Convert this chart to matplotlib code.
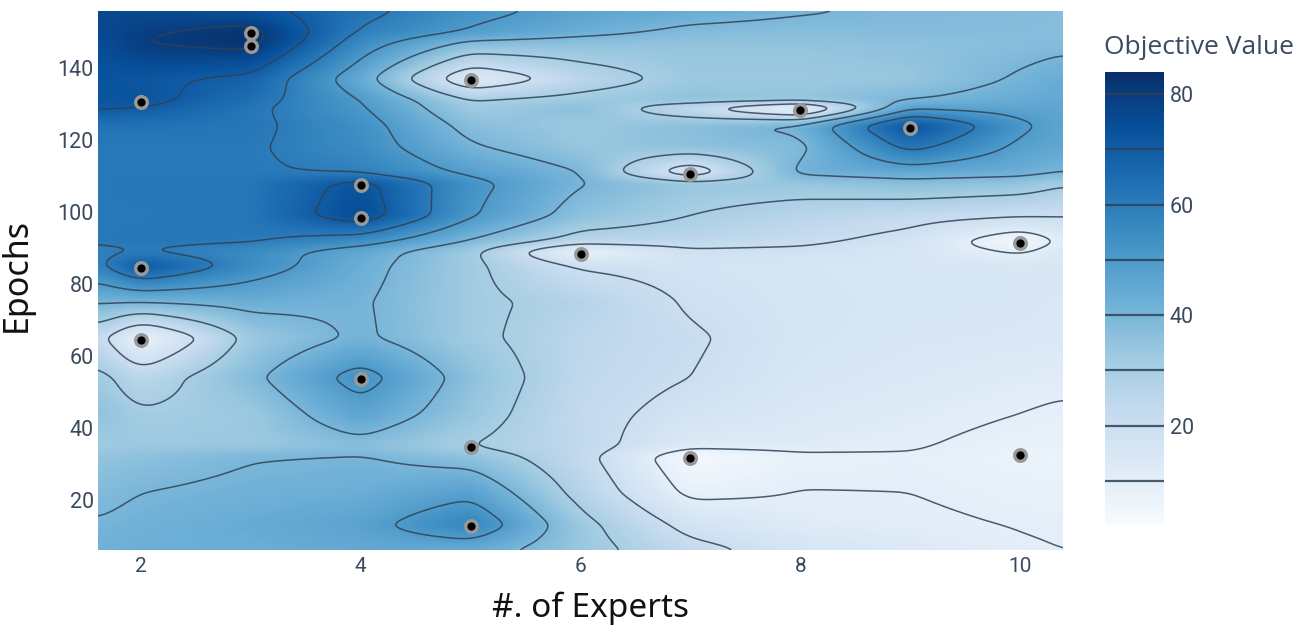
import numpy as np
import matplotlib
matplotlib.use("Agg")
import matplotlib.pyplot as plt

experts = [1.6, 2, 3, 4, 5, 6, 7, 8, 9, 10, 10.4]
epochs = [6, 13, 22, 32, 33, 35, 44, 54, 65, 75, 85, 89, 92, 99, 108, 111, 118, 124, 129, 131, 137, 147, 150, 156]

z006 = [42, 43, 43, 45, 44, 34, 23, 16, 13, 10.5, 10]
z013 = [40.5, 42, 44, 47, 58, 33, 17, 12, 11, 9.8, 9.5]
z022 = [38, 40, 42, 43, 48, 27, 8, 10.2, 10, 8.5, 8]
z032 = [35, 36, 39.5, 40.5, 36, 23, 3, 8, 9, 7, 7]
z033 = [34, 35, 38, 39, 33, 24, 6, 10, 9.9, 7, 7]
z035 = [32, 33, 33, 37, 30, 24, 12.5, 12, 10.5, 8, 8]
z044 = [36, 31, 33, 47, 34, 23, 17, 13.5, 12, 10, 9]
z054 = [33, 24.5, 38, 54, 36, 24, 20, 15, 13.5, 12, 11.5]
z065 = [24, 6, 33, 41.5, 32, 25, 21, 16, 14.5, 14, 13.5]
z075 = [41, 40.5, 43, 41, 32, 27, 19, 16, 15, 14.5, 14]
z085 = [57, 72, 55, 43, 32, 19, 17, 15.5, 15, 14.5, 14.5]
z089 = [58, 60, 55, 45, 32, 6, 18, 18, 15, 9, 14]
z092 = [61, 62, 61, 55, 39.5, 26, 25, 22, 17, 3, 12]
z099 = [61, 61, 62, 76, 51, 36, 30, 26, 23, 21, 20.5]
z108 = [61, 62, 62, 73, 53, 40.5, 34, 34, 37, 35, 31]
z111 = [60.5, 61, 61, 59, 48, 40, 12, 42, 45, 43, 40]
z118 = [61, 61, 61, 55, 41, 34, 36, 38, 63, 48, 45]
z124 = [63, 63, 62, 54, 37, 33, 37, 42, 74, 52, 46]
z129 = [71, 70, 62, 51, 32, 37, 22, 3, 48, 46, 46]
z131 = [72, 73, 64, 50, 30, 33, 36, 35, 40, 44, 45]
z137 = [73, 72, 68, 44, 11, 25, 33, 33, 34, 41, 44]
z147 = [74, 80, 83, 55, 38, 36, 35, 35, 36, 37, 38]
z150 = [76, 79, 83, 59, 49, 43, 38, 37, 38, 37.5, 37]
z156 = [76, 76, 73, 63, 53, 47, 44, 41, 38.5, 38, 37.5]

trial_x = [2, 3, 3, 5, 8, 9, 7, 4, 4, 10, 6, 2, 2, 4, 5, 7, 10, 5]
trial_y = [130.5, 149.7, 146, 136.5, 128.3, 123.3, 110.6, 107.5, 98.3, 91.4, 88.3, 84.4, 64.4, 53.6, 34.7, 31.7, 32.5, 12.8]

levels = [10, 20, 30, 40, 50, 60, 70, 80]
x_ticks = [2, 4, 6, 8, 10]
y_ticks = [20, 40, 60, 80, 100, 120, 140]
cbar_ticks = [20, 40, 60, 80]
zmin, zmax = 2, 84

W, H = 1299, 628
tick_col = "#3a4a60"
line_col = "#2f4254"

z = np.array([z006, z013, z022, z032, z033, z035, z044, z054, z065, z075, z085, z089,
              z092, z099, z108, z111, z118, z124, z129, z131, z137, z147, z150, z156])


def soften(a, nx, ny):
    # box blur, run twice, just takes the kinks out of the surface
    for _ in range(2):
        p = np.pad(a, ((0, 0), (nx // 2, nx // 2)), mode="edge")
        a = np.apply_along_axis(lambda r: np.convolve(r, np.ones(nx) / nx, mode="valid"), 1, p)
        p = np.pad(a, ((ny // 2, ny // 2), (0, 0)), mode="edge")
        a = np.apply_along_axis(lambda c: np.convolve(c, np.ones(ny) / ny, mode="valid"), 0, p)
    return a


fig = plt.figure(figsize=(W / 100, H / 100), dpi=100)
ax = fig.add_axes([98 / W, 1 - 550 / H, 965 / W, 539 / H])

xlim = (1.61, 10.39)
ylim = (6.1, 155.8)
fine_x = np.linspace(*xlim, 900)
fine_y = np.linspace(*ylim, 500)
by_row = np.array([np.interp(fine_x, experts, row) for row in z])
fz = np.array([np.interp(fine_y, epochs, col) for col in by_row.T]).T
fz = soften(fz, 21, 7)

ax.imshow(fz, origin="lower", extent=(*xlim, *ylim), aspect="auto", cmap="Blues",
          vmin=zmin, vmax=zmax, interpolation="bilinear")
ax.contour(fine_x, fine_y, fz, levels=levels, colors=line_col, linewidths=1.1, alpha=0.85)
ax.scatter(trial_x, trial_y, s=70, c="black", edgecolors="#999999", linewidths=2.4, zorder=5)
ax.set_xlim(*xlim)
ax.set_ylim(*ylim)
ax.set_xticks(x_ticks)
ax.set_yticks(y_ticks)
ax.tick_params(axis="x", length=0, labelsize=15, labelcolor=tick_col, pad=5)
ax.tick_params(axis="y", length=0, labelsize=15.5, labelcolor=tick_col, pad=3)
for lab in ax.get_xticklabels() + ax.get_yticklabels():
    lab.set_family("Roboto")
for s in ax.spines.values():
    s.set_visible(False)

fig.text(591 / W, 1 - 608 / H, "#. of Experts", fontsize=24, family="Noto Sans",
         ha="center", va="center", color="#111111")
fig.text(17 / W, 1 - 275 / H, "Epochs", fontsize=24.5, family="Noto Sans", rotation=90,
         ha="center", va="center", color="#111111")

cax = fig.add_axes([1105 / W, 1 - 525 / H, 59 / W, 453 / H])
grad = np.linspace(zmin, zmax, 256).reshape(-1, 1)
cax.imshow(grad, origin="lower", extent=(0, 1, zmin, zmax), aspect="auto", cmap="Blues", vmin=zmin, vmax=zmax)
cax.hlines(levels, 0, 1, colors=line_col, linewidth=1.6, alpha=0.85)
cax.set_xticks([])
cax.yaxis.tick_right()
cax.set_yticks(cbar_ticks)
cax.tick_params(length=0, labelsize=15.5, labelcolor=tick_col, pad=4)
for lab in cax.get_yticklabels():
    lab.set_family("Roboto")
for s in cax.spines.values():
    s.set_visible(False)

fig.text(1104 / W, 1 - 48 / H, "Objective Value", fontsize=19, family="Open Sans",
         ha="left", va="center", color=tick_col)

fig.savefig("out.png", dpi=100)
